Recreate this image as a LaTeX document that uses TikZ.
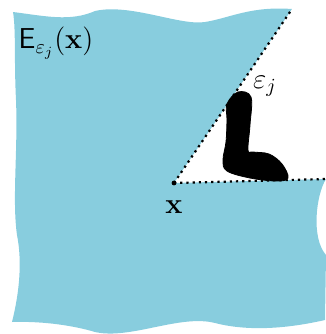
\documentclass[tikz,border=0pt]{standalone}
\usepackage{amsmath,amssymb}
\usepackage{tikz}
\usetikzlibrary{positioning,calc}
\usepackage{xcolor}
\definecolor{sea}{RGB}{136,205,222}
\definecolor{ink}{RGB}{0,0,0}
\tikzset{
  region/.style={fill=sea,draw=none},
  edge/.style={ink,line width=1.1pt,dotted},
  blob/.style={fill=ink,draw=ink},
  lbl/.style={font=\fontsize{14.5}{16}\selectfont,inner sep=1pt},
}

\begin{document}
\begin{tikzpicture}[x=0.5pt,y=-0.5pt]
  \useasboundingbox (0,0) rectangle (326,334);
  % the vertex and the ends of the wedge
  \node[circle,fill=ink,inner sep=0pt,minimum size=2.4pt] (vx) at (174,183) {};
  \coordinate (top) at (292,9);
  \coordinate (rgt) at (326,179);
  % the set
  \fill[region] (13,12) .. controls (45,16) and (70,22) .. (95,11)
    .. controls (130,3) and (180,26) .. (205,22)
    .. controls (230,18) and (250,6) .. (top)
    -- (vx.center) -- (rgt)
    .. controls (316,195) and (311,238) .. (326,255)
    -- (325,320)
    .. controls (290,328) and (250,332) .. (215,323)
    .. controls (180,314) and (130,340) .. (95,332)
    .. controls (75,326) and (45,321) .. (12,322)
    .. controls (20,290) and (22,260) .. (17,235)
    .. controls (12,200) and (18,150) .. (16,100)
    .. controls (14,60) and (16,30) .. (13,12) -- cycle;
  % the black piece
  \fill[blob] plot[smooth cycle,tension=0.6] coordinates {
    (227,104) (238,92) (251,97) (250,125) (248,150) (253,152)
    (269,154) (282,164) (288,178) (276,181) (250,178) (227,171)
    (223,160) (226,142) (227,120)};
  \node[circle,fill=ink,inner sep=0pt,minimum size=2.4pt] at (vx) {};
  \draw[edge] (vx.center) -- (top);
  \draw[edge] (vx.center) -- (rgt);
  % labels
  \node[lbl] (name) at (56,43) {$\mathsf{E}_{\varepsilon_j}(\mathbf{x})$};
  \node[lbl] (eps) at (265,86) {$\varepsilon_j$};
  \node[lbl,below=6pt of vx] (xlbl) {$\mathbf{x}$};
\end{tikzpicture}
\end{document}
